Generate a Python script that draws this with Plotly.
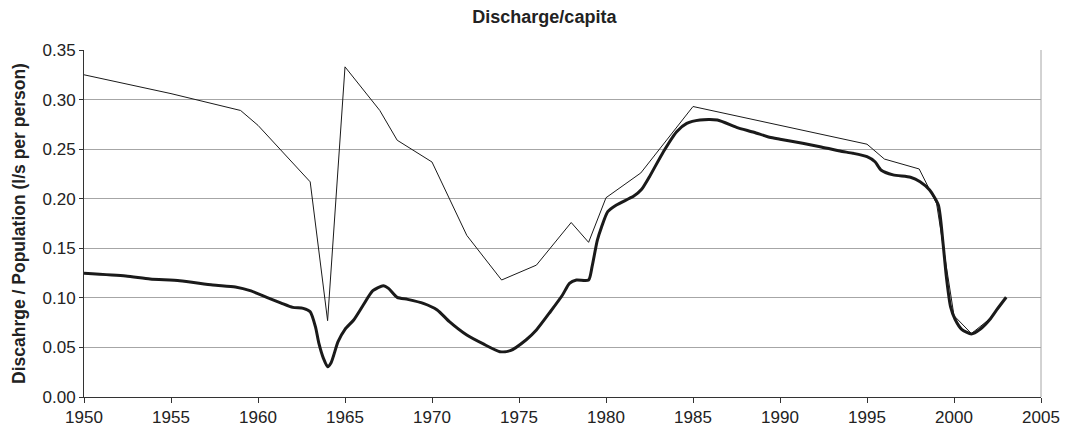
import plotly.graph_objects as go

# Thin line: annual discharge / population
raw_years = [1950, 1955, 1959, 1960, 1963, 1964, 1965, 1967, 1968, 1970, 1972, 1974, 1976,
             1978, 1979, 1980, 1982, 1985, 1995, 1996, 1998, 1999, 2000, 2001, 2002, 2003]
raw_values = [0.325, 0.306, 0.289, 0.274, 0.217, 0.077, 0.333, 0.289, 0.259, 0.237, 0.163, 0.118, 0.133,
              0.176, 0.156, 0.201, 0.226, 0.293, 0.255, 0.240, 0.230, 0.195, 0.082, 0.064, 0.078, 0.100]

# Thick line: smoothed series
smooth_years = [1950.0, 1952.4, 1953.8, 1955.5, 1957.4, 1958.7, 1959.6, 1960.5, 1961.3, 1962.0, 1962.6,
                1963.0, 1963.3, 1963.5, 1963.76, 1964.0, 1964.2, 1964.6, 1965.0, 1965.5, 1966.05, 1966.6,
                1967.2, 1967.5, 1968.0, 1968.6, 1969.5, 1970.3, 1971.0, 1972.0, 1972.95, 1973.9, 1974.5,
                1975.4, 1976.0, 1976.8, 1977.5, 1977.9, 1978.3, 1979.0, 1979.2, 1979.5, 1979.75, 1980.1,
                1980.6, 1981.6, 1982.05, 1982.5, 1983.3, 1984.06, 1984.64, 1985.4, 1986.4, 1987.5, 1988.5,
                1989.4, 1990.0, 1991.3, 1992.3, 1993.45, 1994.2, 1995.0, 1995.46, 1995.8, 1996.5, 1997.5,
                1998.05, 1998.6, 1999.1, 1999.37, 1999.56, 1999.8, 2000.06, 2000.44, 2001.0, 2001.5,
                2002.07, 2002.45, 2003.0]
smooth_values = [0.1248, 0.122, 0.119, 0.1173, 0.113, 0.111, 0.107, 0.1005, 0.095, 0.0904, 0.0894,
                 0.086, 0.071, 0.054, 0.039, 0.0306, 0.0346, 0.0558, 0.0683, 0.0777, 0.0928, 0.1072,
                 0.1123, 0.1096, 0.1005, 0.0985, 0.0945, 0.0878, 0.076, 0.0625, 0.0535, 0.0457, 0.0467,
                 0.0575, 0.0676, 0.086, 0.1029, 0.1147, 0.118, 0.118, 0.1315, 0.158, 0.1718, 0.187,
                 0.1937, 0.2027, 0.2095, 0.2222, 0.2474, 0.2676, 0.276, 0.2794, 0.2794, 0.272, 0.267,
                 0.262, 0.26, 0.2559, 0.2525, 0.2481, 0.2458, 0.2424, 0.2373, 0.229, 0.224, 0.2216,
                 0.2172, 0.2088, 0.1937, 0.155, 0.1214, 0.0911, 0.0784, 0.0683, 0.0636, 0.0683,
                 0.0784, 0.0878, 0.1006]

x_ticks = [1950, 1955, 1960, 1965, 1970, 1975, 1980, 1985, 1990, 1995, 2000, 2005]
y_ticks = [0.00, 0.05, 0.10, 0.15, 0.20, 0.25, 0.30, 0.35]

fig = go.Figure()
fig.add_trace(go.Scatter(x=raw_years, y=raw_values, mode="lines",
                         line=dict(color="#1a1a1a", width=1), showlegend=False))
fig.add_trace(go.Scatter(x=smooth_years, y=smooth_values, mode="lines",
                         line=dict(color="#1a1a1a", width=3, shape="spline", smoothing=0.6),
                         showlegend=False))

font = "Liberation Sans, Arial, sans-serif"
fig.update_layout(
    width=1060, height=427,
    paper_bgcolor="white", plot_bgcolor="white",
    margin=dict(l=76, r=27, t=42, b=38),
    title=dict(text="<b>Discharge/capita</b>", x=0.506, xanchor="center", xref="container",
               y=0.979, yref="container", yanchor="middle",
               font=dict(family=font, size=18, color="#222222")),
    font=dict(family=font, size=17, color="#222222"),
    xaxis=dict(range=[1950, 2005], tickvals=x_ticks, ticktext=[str(v) for v in x_ticks],
               showgrid=False, zeroline=False, showline=True, linecolor="#333333", linewidth=1,
               ticks="outside", ticklen=5, tickcolor="#333333", tickfont=dict(size=17),
               automargin=False),
    yaxis=dict(range=[0, 0.35], tickvals=y_ticks, ticktext=[f"{v:.2f}" for v in y_ticks],
               showgrid=True, gridcolor="#a6a6a6", gridwidth=1, zeroline=False,
               showline=True, linecolor="#333333", linewidth=1,
               ticks="outside", ticklen=4, tickcolor="#333333", tickfont=dict(size=17),
               automargin=False,
               title=dict(text="<b>Discahrge / Population (l/s per person)</b>",
                          font=dict(size=17.5), standoff=12)),
    shapes=[dict(type="line", xref="paper", yref="paper", x0=1, x1=1, y0=0, y1=1,
                 line=dict(color="#a6a6a6", width=1))],
)

fig.write_html("out.html")
